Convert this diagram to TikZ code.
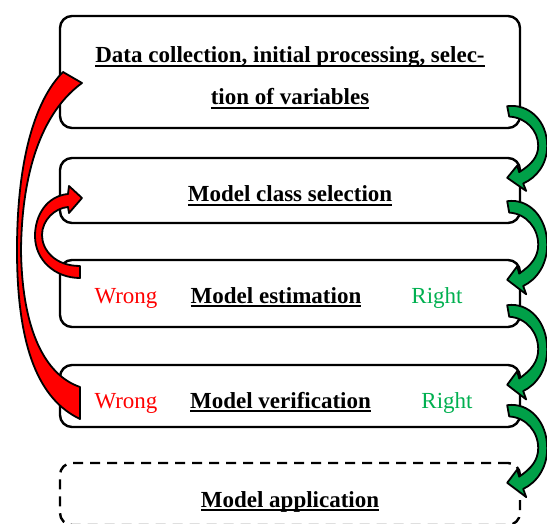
\documentclass[tikz,border=0pt]{standalone}
\usepackage{fontspec}
\setmainfont{Liberation Serif}
\usetikzlibrary{calc}
\definecolor{zold}{RGB}{0,160,72}
\definecolor{zoldtxt}{RGB}{0,176,80}
\definecolor{piros}{RGB}{255,0,0}
\newcommand\alah[1]{\setbox0\hbox{#1}\rlap{\rule[-4pt]{\wd0}{1.6pt}}\box0}
\newcommand\nagy{\fontsize{23}{28}\selectfont}
\tikzset{
  box/.style={draw,line width=2.4pt,rounded corners=12pt,inner sep=0pt,minimum width=460pt},
  dbox/.style={box,dash pattern=on 10pt off 7pt},
  ttl/.style={anchor=base,font=\nagy\bfseries},
  bad/.style={anchor=base,text=piros},
  good/.style={anchor=base,text=zoldtxt},
  arr/.style={draw=black,line width=1.8pt,line join=round},
  garrow/.pic={
    \path[arr,fill=zold] (0,0) .. controls (22,-3) and (40,16) .. (40,42)
      .. controls (40,62) and (29,76) .. (16,82) -- (19,90) -- (0,76) -- (10,63) -- (12,70)
      .. controls (24,62) and (31,54) .. (31,42) .. controls (31,26) and (19,12) .. (2,11) -- cycle;
  },
}

\begin{document}
\begin{tikzpicture}[x=1pt,y=-1pt,font=\nagy]
  \useasboundingbox (0,0) rectangle (547,524);
  \fill[white] (0,0) rectangle (547,524);
  \node[box,minimum height=112pt] (b1) at (290,72) {};
  \node[box,minimum height=65pt] (b2) at (290,190.5) {};
  \node[box,minimum height=67pt] (b3) at (290,293.5) {};
  \node[box,minimum height=62pt] (b4) at (290,396) {};
  \node[dbox,minimum height=62pt] (b5) at (290,494) {};

  \node[ttl] (t1) at (290,63) {\alah{Data collection, initial processing, selec-}};
  \node[ttl] (t1b) at (290,105) {\alah{tion of variables}};
  \node[ttl] (t2) at (290,202) {\alah{Model class selection}};
  \node[bad] (w3) at (126,303) {Wrong};
  \node[ttl] (t3) at (276,303) {\alah{Model estimation}};
  \node[good] (r3) at (437,303) {Right};
  \node[bad] (w4) at (126,408) {Wrong};
  \node[ttl] (t4) at (280.5,408) {\alah{Model verification}};
  \node[good] (r4) at (447,408) {Right};
  \node[ttl] (t5) at (290,507) {\alah{Model application}};

  \foreach \a/\b in {b1/b2,b2/b3,b3/b4,b4/b5}
    \path let \p1=($(\a.south east)+(-14,-23)$), \p2=($(\b.north east)+(-14,21)$),
      \n1={(\y1-\y2)/76} in pic[yscale=\n1] at (\p1) {garrow};

  \path[arr,fill=piros] (80,266) .. controls (55,266) and (42,250) .. (42,235)
    .. controls (42,220) and (55,208) .. (68,207) -- (69,213) -- (82,198) -- (69,186) -- (68,194)
    .. controls (47,196) and (35,215) .. (35,236) .. controls (35,260) and (55,278) .. (80,278) -- cycle;
  \path[arr,fill=piros] (80,419) .. controls (40,400) and (17,350) .. (17,250)
    .. controls (17,160) and (35,100) .. (63,72) -- (82,83)
    .. controls (45,110) and (22,165) .. (21,250) .. controls (22,330) and (45,375) .. (80,387) -- cycle;
\end{tikzpicture}
\end{document}
